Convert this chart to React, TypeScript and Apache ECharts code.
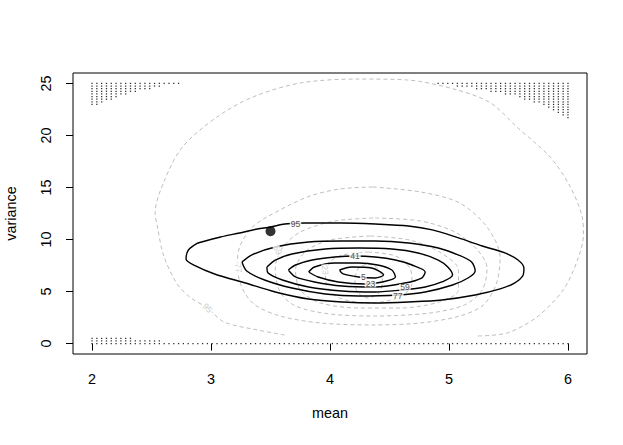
import React, { useEffect, useRef } from "react";
import * as echarts from "echarts";

const xTicks = [2, 3, 4, 5, 6];
const yTicks = [0, 5, 10, 15, 20, 25];

// Posterior contours (solid black), [mean, variance]
const post95 = [
  [2.89, 9.67], [3.08, 10.24], [3.24, 10.63], [3.39, 11.01], [3.5, 11.2], [3.62, 11.49],
  [3.79, 11.59], [4.1, 11.59], [4.38, 11.49], [4.66, 11.3], [4.86, 10.92], [5.08, 10.15],
  [5.28, 9.38], [5.47, 8.71], [5.58, 8.03], [5.63, 7.26], [5.62, 6.5], [5.55, 5.82],
  [5.43, 5.25], [5.22, 4.67], [4.94, 4.19], [4.66, 4.0], [4.38, 3.9], [4.1, 4.0],
  [3.82, 4.28], [3.54, 4.96], [3.29, 5.82], [3.03, 6.69], [2.87, 7.46], [2.79, 8.13], [2.81, 8.99],
];
const post77 = [
  [3.26, 7.84], [3.34, 8.51], [3.54, 9.28], [3.82, 9.76], [4.1, 9.86], [4.38, 9.86],
  [4.66, 9.67], [4.91, 9.19], [5.08, 8.51], [5.19, 7.84], [5.22, 6.98], [5.16, 6.3],
  [5.03, 5.63], [4.8, 4.96], [4.57, 4.67], [4.24, 4.57], [3.96, 4.77], [3.68, 5.34],
  [3.45, 6.11], [3.3, 6.98],
];
const post59 = [
  [3.47, 7.36], [3.54, 8.03], [3.68, 8.61], [3.96, 9.09], [4.24, 9.19], [4.52, 9.09],
  [4.74, 8.71], [4.91, 8.03], [4.99, 7.36], [5.03, 6.59], [4.94, 5.92], [4.8, 5.44],
  [4.61, 5.15], [4.38, 4.96], [4.1, 5.05], [3.82, 5.44], [3.6, 6.11], [3.48, 6.78],
];
const post41 = [
  [3.65, 7.07], [3.71, 7.55], [3.85, 8.03], [4.04, 8.32], [4.21, 8.42], [4.38, 8.32],
  [4.55, 8.03], [4.69, 7.55], [4.8, 6.88], [4.77, 6.3], [4.63, 5.82], [4.38, 5.44],
  [4.1, 5.53], [3.87, 5.92], [3.71, 6.4],
];
const post23 = [
  [3.82, 6.88], [3.87, 7.36], [4.04, 7.74], [4.24, 7.74], [4.4, 7.55], [4.52, 7.07],
  [4.55, 6.4], [4.44, 5.92], [4.29, 5.73], [4.07, 5.92], [3.9, 6.4],
];
const post5 = [
  [4.08, 7.07], [4.18, 7.36], [4.35, 7.26], [4.45, 6.59], [4.38, 6.3], [4.24, 6.4], [4.11, 6.69],
];

// Prior contours (dashed grey), [mean, variance]
const prior95 = [
  [3.62, 0.83], [3.39, 1.31], [3.11, 2.07], [2.97, 3.42], [2.82, 4.48], [2.71, 5.82],
  [2.6, 8.51], [2.55, 11.2], [2.53, 12.55], [2.61, 15.72], [2.76, 18.89], [3.05, 21.77],
  [3.35, 23.69], [3.75, 25.04], [4.23, 25.42], [4.65, 25.33], [5.07, 24.37], [5.35, 23.12],
  [5.57, 20.81], [5.85, 17.93], [6.02, 15.05], [6.12, 12.16], [6.13, 10.43], [6.08, 8.03],
  [5.96, 5.15], [5.74, 2.56], [5.49, 1.02], [5.24, 0.73],
];
const prior77 = [
  [4.36, 15.05], [4.76, 14.57], [5.09, 13.51], [5.32, 11.2], [5.43, 8.32], [5.4, 5.82],
  [5.29, 3.71], [5.09, 2.65], [4.76, 1.98], [4.36, 1.79], [3.92, 1.98], [3.58, 2.65],
  [3.37, 3.71], [3.27, 5.15], [3.22, 7.36], [3.24, 9.28], [3.34, 11.11], [3.47, 12.16],
  [3.81, 14.09], [4.08, 14.85],
];
const prior59 = [
  [4.38, 12.07], [4.76, 11.78], [5.05, 10.72], [5.24, 8.99], [5.32, 7.26], [5.28, 5.15],
  [5.13, 3.71], [4.84, 2.94], [4.38, 2.65], [4.0, 2.84], [3.71, 3.61], [3.58, 4.96],
  [3.54, 7.26], [3.6, 9.19], [3.75, 10.72], [4.04, 11.78],
];
const prior41 = [
  [4.34, 10.34], [4.67, 9.95], [4.92, 8.8], [5.08, 7.07], [5.08, 5.15], [4.92, 4.0],
  [4.59, 3.42], [4.25, 3.42], [3.92, 3.9], [3.75, 5.15], [3.71, 7.07], [3.79, 8.8], [4.0, 9.95],
];
const prior23 = [
  [4.32, 8.8], [4.55, 8.42], [4.67, 7.26], [4.69, 5.82], [4.59, 4.48], [4.32, 3.9],
  [4.08, 4.38], [3.97, 5.63], [3.96, 7.26], [4.08, 8.42],
];
const prior5 = [
  [4.32, 7.65], [4.4, 7.26], [4.44, 6.11], [4.42, 4.96], [4.32, 4.38], [4.23, 4.96],
  [4.21, 6.11], [4.24, 7.26],
];

// Contour labels
const postLabels = [
  { name: "95", value: [3.71, 11.49] },
  { name: "41", value: [4.21, 8.42] },
  { name: "5", value: [4.28, 6.4] },
  { name: "23", value: [4.34, 5.73] },
  { name: "59", value: [4.63, 5.4] },
  { name: "77", value: [4.57, 4.57] },
];
const priorLabels = [
  { name: "95", value: [2.97, 3.42], rot: -48 },
  { name: "77", value: [3.23, 7.26], rot: -82 },
  { name: "59", value: [3.56, 8.99], rot: -65 },
  { name: "23", value: [3.96, 7.07], rot: -85 },
];

// Observed point
const observed = [[3.5, 10.8]];

// Evaluation grid (100 x 100) and the cells marked with dots
const gridMeanStart = 2;
const gridMeanEnd = 6;
const gridVarTop = 25;
const gridVarBottom = 0;
const gridN = 100;
const topLeftHeights = [9, 9, 8, 7, 7, 6, 5, 5, 4, 4, 3, 3, 3, 2, 2, 1, 1, 1, 1];
const topRightStartCol = 72;
const topRightHeights = [1, 1, 1, 1, 2, 2, 2, 2, 3, 3, 3, 4, 4, 4, 5, 5, 5, 6, 7, 7, 8, 8, 9, 10, 11, 12, 13, 14];
const bottomHeights = [3, 3, 3, 3, 3, 3, 3, 3, 3, 2, 2, 2, 2, 2, 2];

function buildDots() {
  const mStep = (gridMeanEnd - gridMeanStart) / (gridN - 1);
  const vStep = (gridVarTop - gridVarBottom) / (gridN - 1);
  const pts: number[][] = [];
  topLeftHeights.forEach((h, c) => {
    for (let r = 0; r < h; r++) pts.push([gridMeanStart + c * mStep, gridVarTop - r * vStep]);
  });
  topRightHeights.forEach((h, k) => {
    const c = topRightStartCol + k;
    for (let r = 0; r < h; r++) pts.push([gridMeanStart + c * mStep, gridVarTop - r * vStep]);
  });
  for (let c = 0; c < gridN; c++) {
    const h = c < bottomHeights.length ? bottomHeights[c] : 1;
    for (let r = 0; r < h; r++) pts.push([gridMeanStart + c * mStep, gridVarBottom + r * vStep]);
  }
  return pts;
}

const FONT = "Liberation Sans, Arial, Helvetica, sans-serif";

function closed(a: number[][]) {
  return [...a, a[0]];
}

export default function App() {
  const ref = useRef<HTMLDivElement>(null);
  useEffect(() => {
    if (!ref.current) return;
    const chart = echarts.init(ref.current, null, { renderer: "svg" });
    const grey = "#bebebe";
    const priorSeries = [prior95, prior77, prior59, prior41, prior23, prior5].map((d, i) => ({
      type: "line",
      data: i === 0 ? d : closed(d),
      symbol: "none",
      smooth: 0.3,
      silent: true,
      z: 2,
      lineStyle: { color: grey, width: 1, type: [4, 3] },
    }));
    const postSeries = [post95, post77, post59, post41, post23, post5].map((d) => ({
      type: "line",
      data: closed(d),
      symbol: "none",
      smooth: 0.3,
      silent: true,
      z: 3,
      lineStyle: { color: "#000", width: 1.4 },
    }));
    chart.setOption({
      animation: false,
      backgroundColor: "#fff",
      grid: {
        left: 73, right: 36, top: 73, bottom: 91,
        show: true, borderColor: "#000", borderWidth: 1, backgroundColor: "transparent",
        outerBoundsMode: "none",
      },
      xAxis: {
        type: "value", min: 1.84, max: 6.16,
        name: "mean", nameLocation: "middle", nameGap: 52,
        nameTextStyle: { fontFamily: FONT, fontSize: 14.4, color: "#000" },
        axisLine: { show: false },
        axisTick: { show: true, length: 7, customValues: xTicks, lineStyle: { color: "#000" } },
        axisLabel: { customValues: xTicks, margin: 18, fontFamily: FONT, fontSize: 14.4, color: "#000" },
        splitLine: { show: false },
      },
      yAxis: {
        type: "value", min: -1, max: 26,
        name: "variance", nameLocation: "middle", nameGap: 55,
        nameTextStyle: { fontFamily: FONT, fontSize: 14.4, color: "#000" },
        axisLine: { show: false },
        axisTick: { show: true, length: 7, customValues: yTicks, lineStyle: { color: "#000" } },
        axisLabel: { customValues: yTicks, rotate: 90, margin: 20, fontFamily: FONT, fontSize: 14.4, color: "#000" },
        splitLine: { show: false },
      },
      series: [
        ...priorSeries,
        ...postSeries,
        {
          type: "scatter",
          data: buildDots(),
          symbol: "rect",
          symbolSize: 1.3,
          silent: true,
          z: 4,
          itemStyle: { color: "#000" },
        },
        {
          type: "scatter",
          data: observed,
          symbol: "circle",
          symbolSize: 10,
          z: 6,
          itemStyle: { color: "#000" },
        },
        {
          type: "scatter",
          data: postLabels,
          symbolSize: 0,
          z: 7,
          label: {
            show: true, position: "inside", formatter: "{b}",
            fontFamily: FONT, fontSize: 8.6, lineHeight: 7, color: "#222",
            backgroundColor: "#fff", padding: [0, 1],
          },
        },
        {
          type: "scatter",
          data: priorLabels.map((l) => ({
            name: l.name, value: l.value,
            label: { rotate: l.rot },
          })),
          symbolSize: 0,
          z: 5,
          label: {
            show: true, position: "inside", formatter: "{b}",
            fontFamily: FONT, fontSize: 8.6, lineHeight: 7, color: grey,
            backgroundColor: "#fff", padding: [0, 1],
          },
        },
      ],
    });
    return () => chart.dispose();
  }, []);
  return (
    <div
      ref={ref}
      style={{ position: "fixed", left: 0, top: 0, width: 623, height: 445, background: "#fff" }}
    />
  );
}
